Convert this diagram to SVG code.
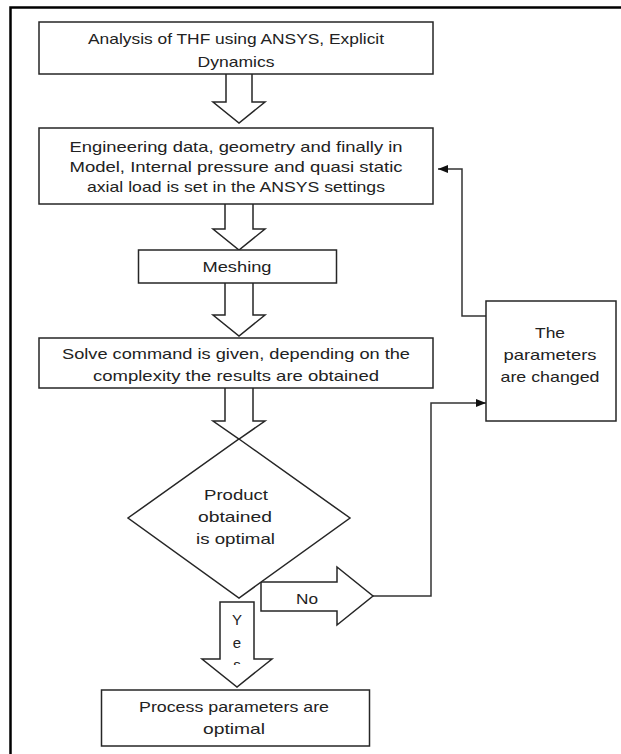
<svg xmlns="http://www.w3.org/2000/svg" width="621" height="754" viewBox="0 0 621 754">
<style>
  .box{fill:#fff;stroke:#262626;stroke-width:1.5}
  .barrow{fill:#fff;stroke:#262626;stroke-width:1.5;stroke-linejoin:miter}
  .conn{fill:none;stroke:#333;stroke-width:1.5}
  text{font-family:"Liberation Sans",Arial,sans-serif;font-size:15px;fill:#222;text-anchor:middle}
</style>
<defs>
  <marker id="ah" viewBox="0 0 10 8" refX="10" refY="4" markerWidth="10" markerHeight="8" markerUnits="userSpaceOnUse" orient="auto">
    <path d="M0 0 L10 4 L0 8 Z" fill="#111"/>
  </marker>
  <clipPath id="yesclip"><rect x="215" y="600" width="45" height="65"/></clipPath>
</defs>
<rect width="621" height="754" fill="#fff"/>
<path d="M10.5 754 V7.5 H621" fill="none" stroke="#000" stroke-width="2.5"/>

<g id="connectors">
  <path class="conn" d="M373 596 H431 V403 H486" marker-end="url(#ah)"/>
  <path class="conn" d="M486 316 H462 V169 H438" marker-end="url(#ah)"/>
  <path class="barrow" d="M226 74 V102 H213 L239 123 L265 102 H252 V74"/>
  <path class="barrow" d="M225 204 V229 H213 L239 250 L265 229 H253 V204"/>
  <path class="barrow" d="M225 283 V315 H213 L239 336 L265 315 H253 V283"/>
  <path class="barrow" d="M225 388 V421 H213 L239 439 L265 421 H253 V388"/>
  <path class="barrow" d="M261 582 H337 V567 L373 596 L337 625 V611 H261 Z"/>
  <text x="307" y="604" textLength="22" lengthAdjust="spacingAndGlyphs">No</text>
  <path class="barrow" d="M220 602 H254 V659 H272 L237 687 L202 659 H220 Z"/>
  <text x="237" y="625">Y</text>
  <text x="237" y="648">e</text>
  <text x="237" y="670" clip-path="url(#yesclip)">s</text>
</g>

<g id="n1">
  <rect class="box" x="39" y="22" width="394" height="52"/>
  <text x="236" y="44" textLength="296" lengthAdjust="spacingAndGlyphs">Analysis of THF using ANSYS, Explicit</text>
  <text x="236" y="67" textLength="77" lengthAdjust="spacingAndGlyphs">Dynamics</text>
</g>
<g id="n2">
  <rect class="box" x="39" y="128" width="394" height="76"/>
  <text x="236" y="152" textLength="333" lengthAdjust="spacingAndGlyphs">Engineering data, geometry and finally in</text>
  <text x="236" y="172" textLength="333" lengthAdjust="spacingAndGlyphs">Model, Internal pressure and quasi static</text>
  <text x="236" y="192" textLength="298" lengthAdjust="spacingAndGlyphs">axial load is set in the ANSYS settings</text>
</g>
<g id="n3">
  <rect class="box" x="138.5" y="250" width="198" height="33"/>
  <text x="237" y="272" textLength="69" lengthAdjust="spacingAndGlyphs">Meshing</text>
</g>
<g id="n4">
  <rect class="box" x="39" y="338" width="394" height="50"/>
  <text x="236" y="359" textLength="348" lengthAdjust="spacingAndGlyphs">Solve command is given, depending on the</text>
  <text x="236" y="381" textLength="286" lengthAdjust="spacingAndGlyphs">complexity the results are obtained</text>
</g>
<g id="n5">
  <polygon class="box" points="239,439 350,518 239,598 128,518"/>
  <text x="236" y="500" textLength="64" lengthAdjust="spacingAndGlyphs">Product</text>
  <text x="235" y="522" textLength="74" lengthAdjust="spacingAndGlyphs">obtained</text>
  <text x="235.5" y="544" textLength="79" lengthAdjust="spacingAndGlyphs">is optimal</text>
</g>
<g id="n6">
  <rect class="box" x="486" y="301" width="130" height="120"/>
  <text x="550" y="338" textLength="30" lengthAdjust="spacingAndGlyphs">The</text>
  <text x="550" y="360" textLength="93" lengthAdjust="spacingAndGlyphs">parameters</text>
  <text x="550" y="382" textLength="99" lengthAdjust="spacingAndGlyphs">are changed</text>
</g>
<g id="n7">
  <rect class="box" x="101.5" y="690" width="268" height="56"/>
  <text x="234" y="712" textLength="190" lengthAdjust="spacingAndGlyphs">Process parameters are</text>
  <text x="234" y="734" textLength="62" lengthAdjust="spacingAndGlyphs">optimal</text>
</g>
</svg>
